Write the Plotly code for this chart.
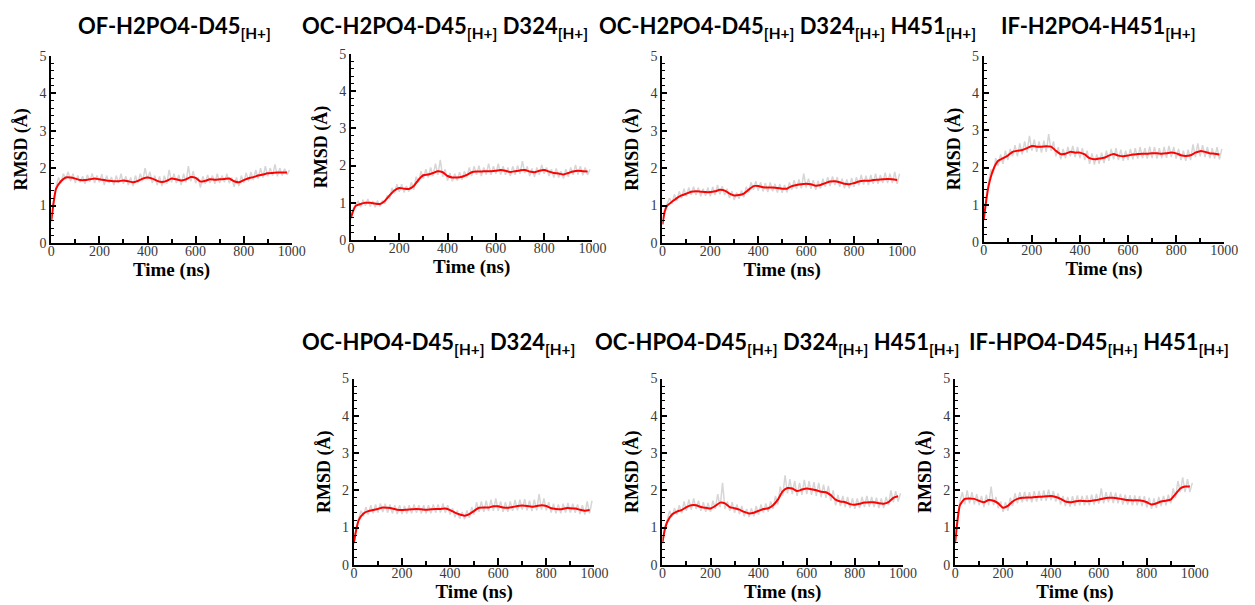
import plotly.graph_objects as go

# ---------------- data ----------------
titles = [
    "OF-H2PO4-D45<sub>[H+]</sub>",
    "OC-H2PO4-D45<sub>[H+]</sub> D324<sub>[H+]</sub>",
    "OC-H2PO4-D45<sub>[H+]</sub> D324<sub>[H+]</sub> H451<sub>[H+]</sub>",
    "IF-H2PO4-H451<sub>[H+]</sub>",
    "OC-HPO4-D45<sub>[H+]</sub> D324<sub>[H+]</sub>",
    "OC-HPO4-D45<sub>[H+]</sub> D324<sub>[H+]</sub> H451<sub>[H+]</sub>",
    "IF-HPO4-D45<sub>[H+]</sub> H451<sub>[H+]</sub>",
]

t_gray = list(range(0, 1000, 10))
t_red = [0, 10] + list(range(20, 1000, 20))

gray1 = [0.55, 1.15, 1.5, 1.75, 1.6, 1.85, 1.7, 1.9, 1.65, 1.85, 1.6, 1.8, 1.62, 1.78, 1.58, 1.82, 1.64, 1.86, 1.6, 1.8,
         1.62, 1.84, 1.55, 1.8, 1.6, 1.76, 1.55, 1.8, 1.6, 1.85, 1.58, 1.78, 1.55, 1.75, 1.52, 1.8, 1.6, 1.85, 1.65, 2.0,
         1.7, 1.9, 1.6, 1.8, 1.55, 1.78, 1.52, 1.8, 1.58, 1.95, 1.62, 1.85, 1.6, 1.82, 1.55, 1.85, 1.62, 2.05, 1.65, 1.92,
         1.6, 1.75, 1.48, 1.78, 1.58, 1.82, 1.6, 1.8, 1.58, 1.85, 1.6, 1.8, 1.62, 1.85, 1.6, 1.75, 1.5, 1.75, 1.52, 1.8,
         1.6, 1.88, 1.65, 1.9, 1.68, 1.95, 1.72, 2.0, 1.75, 2.05, 1.78, 2.0, 1.8, 2.1, 1.78, 2.0, 1.8, 1.98, 1.82, 1.95]
red1 = [0.6, 1.1, 1.45, 1.65, 1.75, 1.75, 1.72, 1.68, 1.68, 1.70, 1.72, 1.70, 1.68, 1.66, 1.65, 1.65, 1.67, 1.65,
        1.62, 1.66, 1.72, 1.75, 1.72, 1.66, 1.63, 1.66, 1.72, 1.70, 1.67, 1.70, 1.76, 1.74, 1.64, 1.66, 1.70, 1.69,
        1.70, 1.71, 1.72, 1.65, 1.62, 1.68, 1.73, 1.76, 1.80, 1.83, 1.86, 1.87, 1.88, 1.88, 1.88]

gray2 = [0.55, 0.85, 0.95, 1.05, 0.88, 1.08, 0.92, 1.1, 0.9, 1.05, 0.88, 1.06, 0.9, 1.05, 0.98, 1.2, 1.1, 1.4, 1.25, 1.5,
         1.3, 1.5, 1.28, 1.45, 1.3, 1.55, 1.35, 1.7, 1.55, 1.85, 1.65, 1.9, 1.68, 1.95, 1.72, 2.05, 1.75, 2.15, 1.7, 1.9,
         1.6, 1.8, 1.58, 1.78, 1.6, 1.82, 1.62, 1.85, 1.68, 1.95, 1.72, 1.98, 1.75, 2.0, 1.72, 1.95, 1.76, 2.05, 1.75, 1.98,
         1.78, 2.05, 1.76, 1.98, 1.75, 1.95, 1.72, 1.98, 1.75, 2.0, 1.78, 2.12, 1.8, 1.98, 1.72, 1.92, 1.7, 1.95, 1.75, 2.02,
         1.78, 1.95, 1.72, 1.9, 1.68, 1.92, 1.68, 1.85, 1.65, 1.9, 1.7, 1.95, 1.75, 2.02, 1.76, 1.98, 1.74, 1.95, 1.75, 1.9]
red2 = [0.6, 0.8, 0.92, 0.97, 1.0, 1.0, 0.98, 0.97, 1.05, 1.2, 1.33, 1.40, 1.38, 1.37, 1.45, 1.62, 1.74, 1.76, 1.80,
        1.85, 1.82, 1.72, 1.68, 1.68, 1.70, 1.75, 1.82, 1.84, 1.84, 1.85, 1.85, 1.86, 1.88, 1.86, 1.83, 1.85, 1.87,
        1.88, 1.84, 1.82, 1.86, 1.88, 1.84, 1.80, 1.79, 1.76, 1.80, 1.84, 1.86, 1.85, 1.84]

gray3 = [0.5, 0.9, 1.05, 1.2, 1.05, 1.3, 1.12, 1.38, 1.2, 1.45, 1.25, 1.48, 1.28, 1.5, 1.28, 1.48, 1.25, 1.45, 1.26, 1.48,
         1.25, 1.5, 1.28, 1.55, 1.3, 1.52, 1.28, 1.45, 1.2, 1.38, 1.15, 1.35, 1.18, 1.4, 1.22, 1.5, 1.35, 1.62, 1.42, 1.65,
         1.4, 1.62, 1.38, 1.6, 1.36, 1.62, 1.38, 1.58, 1.35, 1.58, 1.34, 1.55, 1.35, 1.62, 1.42, 1.68, 1.45, 1.7, 1.46, 1.85,
         1.48, 1.72, 1.45, 1.68, 1.42, 1.66, 1.45, 1.72, 1.5, 1.76, 1.52, 1.78, 1.55, 1.76, 1.5, 1.72, 1.46, 1.7, 1.46, 1.74,
         1.5, 1.76, 1.54, 1.82, 1.56, 1.8, 1.55, 1.82, 1.58, 1.85, 1.58, 1.82, 1.6, 1.88, 1.6, 1.85, 1.6, 1.9, 1.58, 1.85]
red3 = [0.5, 0.85, 1.0, 1.1, 1.2, 1.27, 1.32, 1.37, 1.38, 1.37, 1.36, 1.36, 1.38, 1.42, 1.40, 1.32, 1.27, 1.28, 1.32,
        1.42, 1.52, 1.52, 1.49, 1.48, 1.48, 1.47, 1.45, 1.45, 1.52, 1.55, 1.57, 1.58, 1.57, 1.53, 1.55, 1.60, 1.64,
        1.65, 1.62, 1.58, 1.57, 1.60, 1.64, 1.66, 1.66, 1.68, 1.69, 1.70, 1.71, 1.70, 1.68]

gray4 = [0.55, 1.2, 1.6, 1.95, 1.85, 2.25, 2.05, 2.35, 2.1, 2.45, 2.2, 2.5, 2.3, 2.6, 2.3, 2.65, 2.35, 2.7, 2.4, 2.85,
         2.45, 2.75, 2.42, 2.7, 2.4, 2.72, 2.42, 2.9, 2.45, 2.7, 2.3, 2.55, 2.22, 2.5, 2.25, 2.55, 2.3, 2.58, 2.28, 2.55,
         2.25, 2.52, 2.2, 2.45, 2.1, 2.38, 2.08, 2.35, 2.1, 2.4, 2.12, 2.45, 2.18, 2.5, 2.22, 2.52, 2.2, 2.48, 2.18, 2.45,
         2.2, 2.5, 2.22, 2.52, 2.24, 2.55, 2.25, 2.52, 2.24, 2.56, 2.25, 2.55, 2.24, 2.52, 2.25, 2.55, 2.26, 2.58, 2.28, 2.55,
         2.24, 2.5, 2.2, 2.45, 2.18, 2.48, 2.2, 2.62, 2.28, 2.65, 2.3, 2.6, 2.28, 2.55, 2.25, 2.52, 2.24, 2.55, 2.22, 2.5]
red4 = [0.6, 1.1, 1.5, 1.95, 2.18, 2.25, 2.32, 2.42, 2.45, 2.47, 2.52, 2.58, 2.56, 2.56, 2.57, 2.56, 2.45, 2.36, 2.37,
        2.42, 2.40, 2.40, 2.35, 2.25, 2.22, 2.24, 2.26, 2.32, 2.36, 2.32, 2.30, 2.32, 2.35, 2.36, 2.37, 2.37, 2.38,
        2.38, 2.37, 2.38, 2.40, 2.38, 2.33, 2.31, 2.33, 2.40, 2.44, 2.42, 2.38, 2.37, 2.35]

gray5 = [0.55, 1.0, 1.25, 1.45, 1.3, 1.55, 1.35, 1.6, 1.38, 1.62, 1.4, 1.65, 1.42, 1.64, 1.4, 1.62, 1.38, 1.6, 1.36, 1.6,
         1.36, 1.58, 1.38, 1.6, 1.38, 1.62, 1.4, 1.6, 1.38, 1.6, 1.38, 1.6, 1.38, 1.62, 1.4, 1.62, 1.4, 1.65, 1.4, 1.6,
         1.35, 1.52, 1.28, 1.46, 1.24, 1.42, 1.22, 1.46, 1.26, 1.55, 1.35, 1.68, 1.42, 1.7, 1.42, 1.72, 1.44, 1.75, 1.45, 1.78,
         1.45, 1.7, 1.42, 1.68, 1.42, 1.7, 1.45, 1.74, 1.46, 1.75, 1.48, 1.76, 1.46, 1.72, 1.44, 1.75, 1.46, 1.9, 1.48, 1.78,
         1.46, 1.68, 1.4, 1.64, 1.38, 1.62, 1.38, 1.64, 1.4, 1.66, 1.4, 1.64, 1.4, 1.62, 1.36, 1.6, 1.35, 1.7, 1.38, 1.72]
red5 = [0.6, 0.95, 1.2, 1.38, 1.44, 1.47, 1.50, 1.54, 1.53, 1.51, 1.48, 1.47, 1.48, 1.49, 1.50, 1.49, 1.48, 1.49,
        1.50, 1.50, 1.51, 1.47, 1.40, 1.35, 1.32, 1.36, 1.45, 1.53, 1.54, 1.54, 1.57, 1.57, 1.54, 1.53, 1.55, 1.58,
        1.59, 1.58, 1.56, 1.58, 1.60, 1.58, 1.52, 1.50, 1.49, 1.52, 1.52, 1.51, 1.48, 1.45, 1.47]

gray6 = [0.55, 1.0, 1.2, 1.45, 1.28, 1.52, 1.35, 1.6, 1.38, 1.7, 1.45, 1.75, 1.48, 1.78, 1.5, 1.72, 1.45, 1.68, 1.42, 1.66,
         1.42, 1.72, 1.5, 1.9, 1.55, 2.2, 1.5, 1.7, 1.45, 1.68, 1.4, 1.62, 1.36, 1.58, 1.3, 1.5, 1.28, 1.52, 1.3, 1.58,
         1.35, 1.62, 1.4, 1.65, 1.42, 1.7, 1.5, 1.85, 1.62, 2.1, 1.85, 2.4, 1.92, 2.3, 1.9, 2.25, 1.85, 2.2, 1.88, 2.28,
         1.9, 2.25, 1.88, 2.22, 1.85, 2.2, 1.82, 2.15, 1.8, 2.12, 1.72, 2.0, 1.6, 1.88, 1.58, 1.85, 1.55, 1.82, 1.52, 1.78,
         1.5, 1.78, 1.52, 1.82, 1.55, 1.85, 1.56, 1.82, 1.55, 1.8, 1.52, 1.78, 1.52, 1.82, 1.6, 2.0, 1.68, 1.98, 1.7, 1.92]
red6 = [0.6, 0.95, 1.15, 1.35, 1.43, 1.47, 1.55, 1.60, 1.60, 1.55, 1.53, 1.51, 1.58, 1.67, 1.65, 1.55, 1.52, 1.48,
        1.42, 1.38, 1.40, 1.45, 1.50, 1.52, 1.60, 1.75, 1.97, 2.06, 2.05, 1.98, 2.02, 2.05, 2.03, 2.00, 1.96, 1.95,
        1.87, 1.75, 1.70, 1.68, 1.63, 1.61, 1.64, 1.67, 1.68, 1.68, 1.65, 1.64, 1.68, 1.80, 1.84]

gray7 = [0.55, 1.3, 1.7, 1.95, 1.62, 2.0, 1.65, 1.95, 1.62, 1.9, 1.6, 1.85, 1.55, 1.88, 1.6, 2.1, 1.6, 1.82, 1.52, 1.7,
         1.42, 1.68, 1.45, 1.8, 1.58, 1.92, 1.65, 1.95, 1.68, 1.96, 1.7, 1.95, 1.68, 1.98, 1.7, 1.98, 1.72, 2.0, 1.72, 2.02,
         1.74, 1.98, 1.7, 1.92, 1.62, 1.85, 1.58, 1.82, 1.56, 1.84, 1.58, 1.86, 1.6, 1.85, 1.6, 1.86, 1.6, 1.88, 1.62, 1.9,
         1.64, 2.05, 1.65, 1.95, 1.68, 1.96, 1.66, 1.94, 1.65, 1.9, 1.62, 1.88, 1.62, 1.87, 1.6, 1.86, 1.6, 1.85, 1.58, 1.84,
         1.54, 1.8, 1.5, 1.78, 1.52, 1.82, 1.58, 1.85, 1.6, 1.88, 1.65, 2.05, 1.8, 2.25, 1.95, 2.35, 1.95, 2.3, 1.95, 2.2]
red7 = [0.6, 1.2, 1.6, 1.77, 1.78, 1.77, 1.72, 1.68, 1.74, 1.72, 1.65, 1.53, 1.58, 1.70, 1.77, 1.80, 1.81, 1.81, 1.82,
        1.83, 1.84, 1.85, 1.82, 1.77, 1.70, 1.68, 1.70, 1.72, 1.71, 1.71, 1.73, 1.75, 1.78, 1.80, 1.80, 1.78, 1.76,
        1.74, 1.73, 1.73, 1.72, 1.68, 1.62, 1.65, 1.70, 1.72, 1.75, 1.90, 2.05, 2.10, 2.10]

grays = [gray1, gray2, gray3, gray4, gray5, gray6, gray7]
reds = [red1, red2, red3, red4, red5, red6, red7]

x_ticks = [0, 200, 400, 600, 800, 1000]
y_ticks = [0, 1, 2, 3, 4, 5]

# ---------------- layout (pixel boxes of each panel) ----------------
W, H = 1255, 605
boxes = [  # left, right, top, bottom in px
    (48, 292, 50, 242),
    (352, 597, 48, 239),
    (668, 911, 50, 242),
    (994, 1238, 50, 241),
    (355, 599, 381, 572),
    (668, 912, 381, 572),
    (965, 1208, 381, 572),
]
title_pos = [(173, 20), (447, 20), (795, 20), (1110, 20), (441, 345), (784, 345), (1111, 345)]

fig = go.Figure()
serif = "Liberation Serif, Times New Roman, serif"

for i in range(7):
    n = "" if i == 0 else str(i + 1)
    fig.add_trace(go.Scatter(x=t_gray, y=grays[i], mode="lines",
                             line=dict(color="#d6d6d6", width=1.5),
                             xaxis="x" + n, yaxis="y" + n, showlegend=False, hoverinfo="skip"))
    fig.add_trace(go.Scatter(x=t_red, y=reds[i], mode="lines",
                             line=dict(color="#ff0000", width=2, shape="spline", smoothing=0.6),
                             xaxis="x" + n, yaxis="y" + n, showlegend=False))
    l, r, t, b = boxes[i]
    common = dict(showline=True, linecolor="black", linewidth=2, showgrid=False, zeroline=False,
                  ticks="inside", tickwidth=1.5, tickcolor="black",
                  tickfont=dict(family=serif, size=14, color="#3a3a3a"))
    fig.layout["xaxis" + n] = dict(
        domain=[l / W, r / W], anchor="y" + n, range=[0, 1000], tickvals=x_ticks, ticklen=7,
        ticklabelstandoff=-6,
        minor=dict(ticks="inside", ticklen=4, dtick=100, tickcolor="black", tickwidth=1.5, showgrid=False),
        title=dict(text="Time (ns)", font=dict(family=serif, size=19, color="black", weight="bold"), standoff=0),
        **common)
    fig.layout["yaxis" + n] = dict(
        domain=[1 - b / H, 1 - t / H], anchor="x" + n, range=[0, 5], tickvals=y_ticks, ticklen=5,
        minor=dict(ticks="inside", ticklen=3, dtick=0.2, tickcolor="black", tickwidth=1, showgrid=False),
        title=dict(text="RMSD (Å)", font=dict(family=serif, size=18, color="black", weight="bold"), standoff=7),
        **common)
    tx, ty = title_pos[i]
    fig.add_annotation(text=titles[i], x=tx / W, y=1 - ty / H, xref="paper", yref="paper",
                       xanchor="center", yanchor="middle", showarrow=False,
                       font=dict(family="Lato, Open Sans, sans-serif", size=22, color="black", weight="bold"))

fig.update_layout(width=W, height=H, margin=dict(l=0, r=0, t=0, b=0),
                  paper_bgcolor="white", plot_bgcolor="white")
fig.write_html("out.html")
